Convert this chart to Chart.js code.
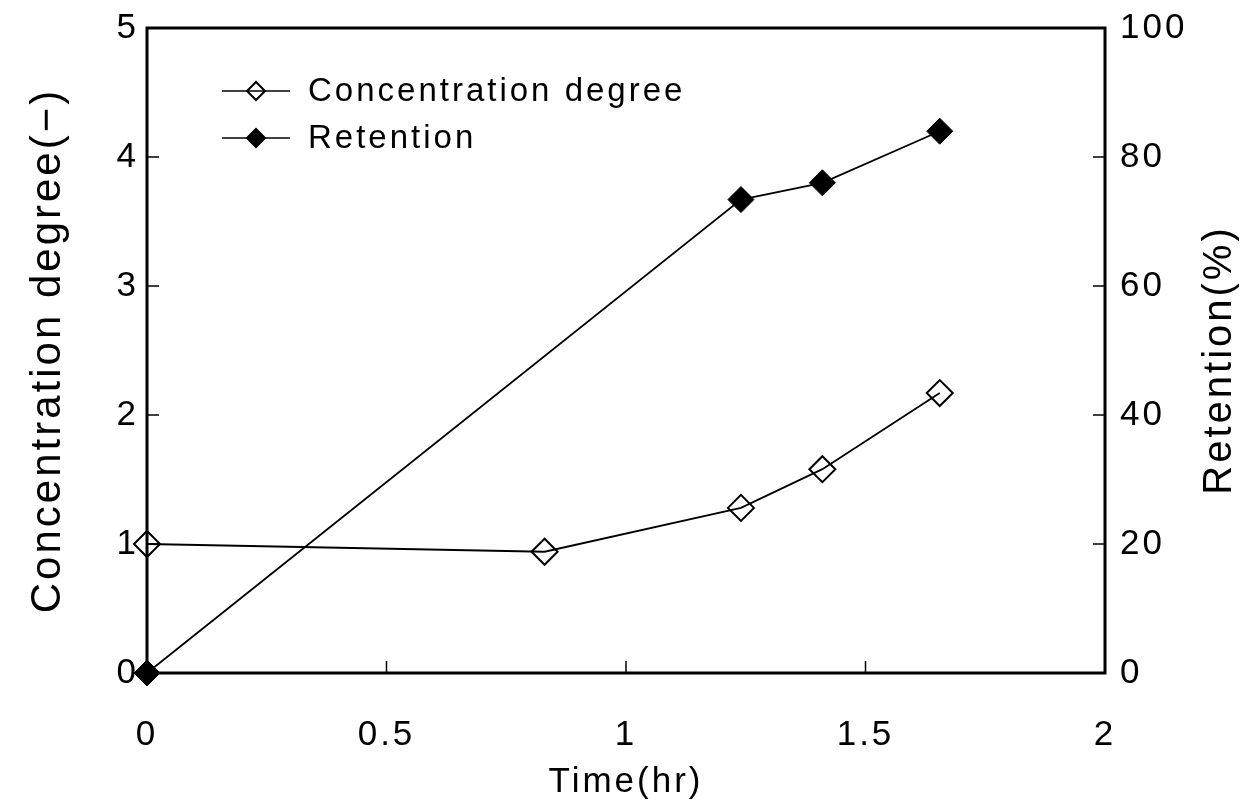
<!DOCTYPE html>
<html>
<head>
<meta charset="utf-8">
<script src="https://cdn.jsdelivr.net/npm/chart.js@4"></script>
<style>
    html, body { margin: 0; padding: 0; background: #fff; }
    canvas { display: block; }
</style>
</head>
<body>
<canvas id="grafico" width="1244" height="804"></canvas>
<script>
const tempo = [0, 0.83, 1.24, 1.41, 1.655];
const concentracao = [1.0, 0.94, 1.28, 1.58, 2.17];
const tempoRetencao = [0, 1.24, 1.41, 1.655];
const retencao = [0, 73.4, 76.0, 84.0];

const ticksTempo = [0, 0.5, 1, 1.5, 2];
const ticksConc = [0, 1, 2, 3, 4, 5];
const ticksRet = [0, 20, 40, 60, 80, 100];

const fonte = '"Liberation Sans", Arial, sans-serif';

const pontos = (xs, ys) => xs.map((x, i) => ({ x: x, y: ys[i] }));
const fixarTicks = (lista) => (s) => { s.ticks = lista.map(v => ({ value: v })); };
const rotulo = (v) => String(v);
const larguraFixa = (w) => (s) => { s.width = w; s.paddingTop = 0; s.paddingBottom = 0; };

// moldura, marcas internas, titulo da direita e legenda
const moldura = {
    id: 'moldura',
    beforeDraw(chart) {
        chart.ctx.letterSpacing = '3px';
    },
    afterDraw(chart) {
        const ctx = chart.ctx;
        const a = chart.chartArea;
        const sx = chart.scales.x, sy = chart.scales.y, sy1 = chart.scales.y1;
        ctx.save();
        ctx.strokeStyle = '#000';

        // marcas
        ctx.lineWidth = 1.5;
        ctx.beginPath();
        ticksTempo.forEach(v => {
            const px = sx.getPixelForValue(v);
            ctx.moveTo(px, a.bottom);
            ctx.lineTo(px, a.bottom - 12);
        });
        ticksConc.forEach(v => {
            const py = sy.getPixelForValue(v);
            ctx.moveTo(a.left, py);
            ctx.lineTo(a.left + 12, py);
        });
        ticksRet.forEach(v => {
            const py = sy1.getPixelForValue(v);
            ctx.moveTo(a.right, py);
            ctx.lineTo(a.right - 12, py);
        });
        ctx.stroke();

        ctx.lineWidth = 3;
        ctx.strokeRect(a.left, a.top, a.right - a.left, a.bottom - a.top);

        // titulo do eixo da direita (lido de baixo para cima)
        ctx.fillStyle = '#000';
        ctx.font = '40px ' + fonte;
        ctx.textAlign = 'center';
        ctx.textBaseline = 'middle';
        ctx.translate(1220, 360);
        ctx.rotate(-Math.PI / 2);
        ctx.fillText('Retention(%)', 0, 0);
        ctx.restore();

        // legenda
        ctx.save();
        ctx.letterSpacing = '3px';
        ctx.font = '33px ' + fonte;
        ctx.textAlign = 'left';
        ctx.textBaseline = 'middle';
        chart.data.datasets.forEach((ds, i) => {
            const y = a.top + 63 + i * 47;
            const x0 = a.left + 75;
            ctx.strokeStyle = '#000';
            ctx.lineWidth = 1.5;
            ctx.beginPath();
            ctx.moveTo(x0, y);
            ctx.lineTo(x0 + 68, y);
            ctx.stroke();
            ctx.lineWidth = 2;
            ctx.fillStyle = ds.pointBackgroundColor;
            Chart.helpers.drawPoint(ctx, { pointStyle: 'rectRot', radius: 9, borderWidth: 2 }, x0 + 34, y);
            ctx.fillStyle = '#000';
            ctx.fillText(ds.label, a.left + 161, y + 1);
        });
        ctx.restore();
    }
};

new Chart(document.getElementById('grafico'), {
    type: 'line',
    data: {
        datasets: [
            {
                label: 'Concentration degree',
                data: pontos(tempo, concentracao),
                yAxisID: 'y',
                borderColor: '#000',
                borderWidth: 1.8,
                pointStyle: 'rectRot',
                pointRadius: 13,
                pointBorderWidth: 2,
                pointBorderColor: '#000',
                pointBackgroundColor: 'rgba(0,0,0,0)',
                tension: 0
            },
            {
                label: 'Retention',
                data: pontos(tempoRetencao, retencao),
                yAxisID: 'y1',
                borderColor: '#000',
                borderWidth: 1.8,
                pointStyle: 'rectRot',
                pointRadius: 13,
                pointBorderWidth: 1,
                pointBorderColor: '#000',
                pointBackgroundColor: '#000',
                tension: 0
            }
        ]
    },
    options: {
        responsive: false,
        animation: false,
        clip: false,
        layout: { padding: { top: 28, left: 0, right: 0, bottom: 0 } },
        plugins: { legend: { display: false }, tooltip: { enabled: false } },
        scales: {
            x: {
                type: 'linear',
                min: 0, max: 2,
                afterBuildTicks: fixarTicks(ticksTempo),
                afterFit: s => { s.height = 131; s.paddingLeft = 0; s.paddingRight = 0; },
                grid: { display: false, drawTicks: false },
                border: { display: false },
                ticks: { color: '#000', padding: 41, maxRotation: 0, callback: rotulo, font: { family: fonte, size: 35 } },
                title: { display: true, text: 'Time(hr)', color: '#000', font: { family: fonte, size: 35 }, padding: { top: 0, bottom: 1 } }
            },
            y: {
                type: 'linear',
                position: 'left',
                min: 0, max: 5,
                afterBuildTicks: fixarTicks(ticksConc),
                afterFit: larguraFixa(147),
                grid: { display: false, drawTicks: false },
                border: { display: false },
                ticks: { color: '#000', padding: 8, callback: rotulo, font: { family: fonte, size: 35 } },
                title: { display: true, text: 'Concentration degree(\u2212)', color: '#000', font: { family: fonte, size: 42 }, padding: { top: 23, bottom: 0 } }
            },
            y1: {
                type: 'linear',
                position: 'right',
                min: 0, max: 100,
                afterBuildTicks: fixarTicks(ticksRet),
                afterFit: larguraFixa(139),
                grid: { display: false, drawTicks: false },
                border: { display: false },
                ticks: { color: '#000', padding: 15, callback: rotulo, font: { family: fonte, size: 35 } }
            }
        }
    },
    plugins: [moldura]
});
</script>
</body>
</html>
